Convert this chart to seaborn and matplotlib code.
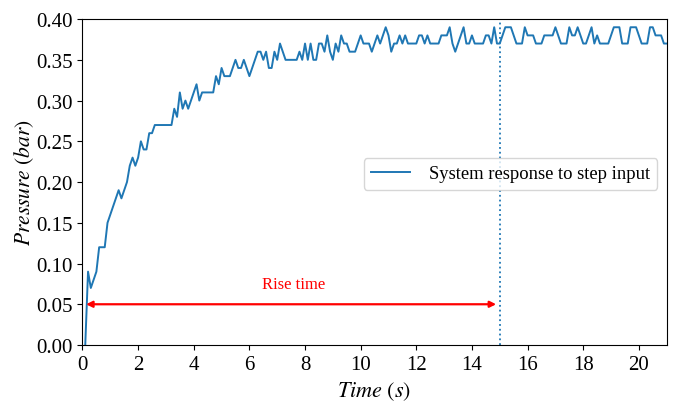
import numpy as np
import pandas as pd
import matplotlib
matplotlib.use("Agg")
import matplotlib.pyplot as plt
import seaborn as sns

# ---- data (pressure in bar, sampled every 0.1 s starting at t = 0.1 s) ----
pressure = [
    0.00, 0.09, 0.07, 0.08, 0.09, 0.12, 0.12, 0.12, 0.15, 0.16,
    0.17, 0.18, 0.19, 0.18, 0.19, 0.20, 0.22, 0.23, 0.22, 0.23,
    0.25, 0.24, 0.24, 0.26, 0.26, 0.27, 0.27, 0.27, 0.27, 0.27,
    0.27, 0.27, 0.29, 0.28, 0.31, 0.29, 0.30, 0.29, 0.30, 0.31,
    0.32, 0.30, 0.31, 0.31, 0.31, 0.31, 0.31, 0.33, 0.32, 0.34,
    0.33, 0.33, 0.33, 0.34, 0.35, 0.34, 0.34, 0.35, 0.34, 0.33,
    0.34, 0.35, 0.36, 0.36, 0.35, 0.36, 0.34, 0.34, 0.36, 0.35,
    0.37, 0.36, 0.35, 0.35, 0.35, 0.35, 0.35, 0.36, 0.35, 0.37,
    0.35, 0.37, 0.35, 0.35, 0.37, 0.37, 0.36, 0.38, 0.36, 0.35,
    0.37, 0.36, 0.38, 0.37, 0.37, 0.36, 0.36, 0.36, 0.37, 0.38,
    0.37, 0.37, 0.37, 0.36, 0.37, 0.38, 0.37, 0.38, 0.39, 0.38,
    0.36, 0.37, 0.37, 0.38, 0.37, 0.38, 0.37, 0.37, 0.37, 0.37,
    0.38, 0.38, 0.37, 0.38, 0.37, 0.37, 0.37, 0.37, 0.38, 0.38,
    0.38, 0.39, 0.37, 0.36, 0.37, 0.38, 0.39, 0.37, 0.37, 0.38,
    0.37, 0.37, 0.37, 0.37, 0.38, 0.38, 0.37, 0.39, 0.37, 0.37,
    0.38, 0.39, 0.39, 0.39, 0.38, 0.37, 0.37, 0.37, 0.39, 0.38,
    0.38, 0.38, 0.37, 0.37, 0.37, 0.38, 0.38, 0.38, 0.38, 0.39,
    0.38, 0.37, 0.37, 0.37, 0.39, 0.38, 0.38, 0.39, 0.38, 0.37,
    0.37, 0.38, 0.39, 0.37, 0.38, 0.37, 0.37, 0.37, 0.37, 0.38,
    0.39, 0.39, 0.39, 0.37, 0.37, 0.37, 0.39, 0.39, 0.39, 0.38,
    0.37, 0.37, 0.37, 0.39, 0.39, 0.38, 0.38, 0.38, 0.37, 0.37,
]
sample_step = 0.1
time = np.round(sample_step * np.arange(1, len(pressure) + 1), 2)

rise_time = 15.0
arrow_level = 0.05
series_label = "System response to step input"
x_ticks = [0, 2, 4, 6, 8, 10, 12, 14, 16, 18, 20]
y_ticks = [0.00, 0.05, 0.10, 0.15, 0.20, 0.25, 0.30, 0.35, 0.40]

df = pd.DataFrame({"Time": time, "Pressure": pressure})

# ---- style ----
plt.rcParams.update({
    "font.family": ["Liberation Serif", "DejaVu Serif"],
    "mathtext.fontset": "stix",
    "xtick.labelsize": 15,
    "ytick.labelsize": 15,
})

fig = plt.figure(figsize=(6.89, 4.02), dpi=100)
ax = fig.add_axes([0.1197, 0.1393, 0.9676 - 0.1197, 0.950 - 0.1393])

sns.lineplot(data=df, x="Time", y="Pressure", ax=ax, color="#1f77b4",
             linewidth=1.4, label=series_label)

ax.axvline(rise_time, color="#1f77b4", linestyle=":", linewidth=1.3)

ax.annotate("", xy=(rise_time - 0.13, arrow_level), xytext=(0.13, arrow_level),
            arrowprops=dict(arrowstyle="<|-|>", color="red", lw=1.6,
                            mutation_scale=9, shrinkA=0, shrinkB=0))
ax.text(7.6, 0.075, "Rise time", color="red", fontsize=12,
        ha="center", va="center")

ax.set_xlim(0, 21)
ax.set_ylim(0, 0.40)
ax.set_xticks(x_ticks)
ax.set_yticks(y_ticks)
ax.set_yticklabels([f"{v:.2f}" for v in y_ticks])
ax.set_xlabel(r"$Time\ (s)$", fontsize=16)
ax.set_ylabel(r"$Pressure\ (bar)$", fontsize=15.5, labelpad=0)

ax.legend(loc="center right", bbox_to_anchor=(1.0, 0.525), fontsize=13.4,
          handlelength=2.1, handletextpad=1.0)

fig.savefig("out.png", dpi=100)
